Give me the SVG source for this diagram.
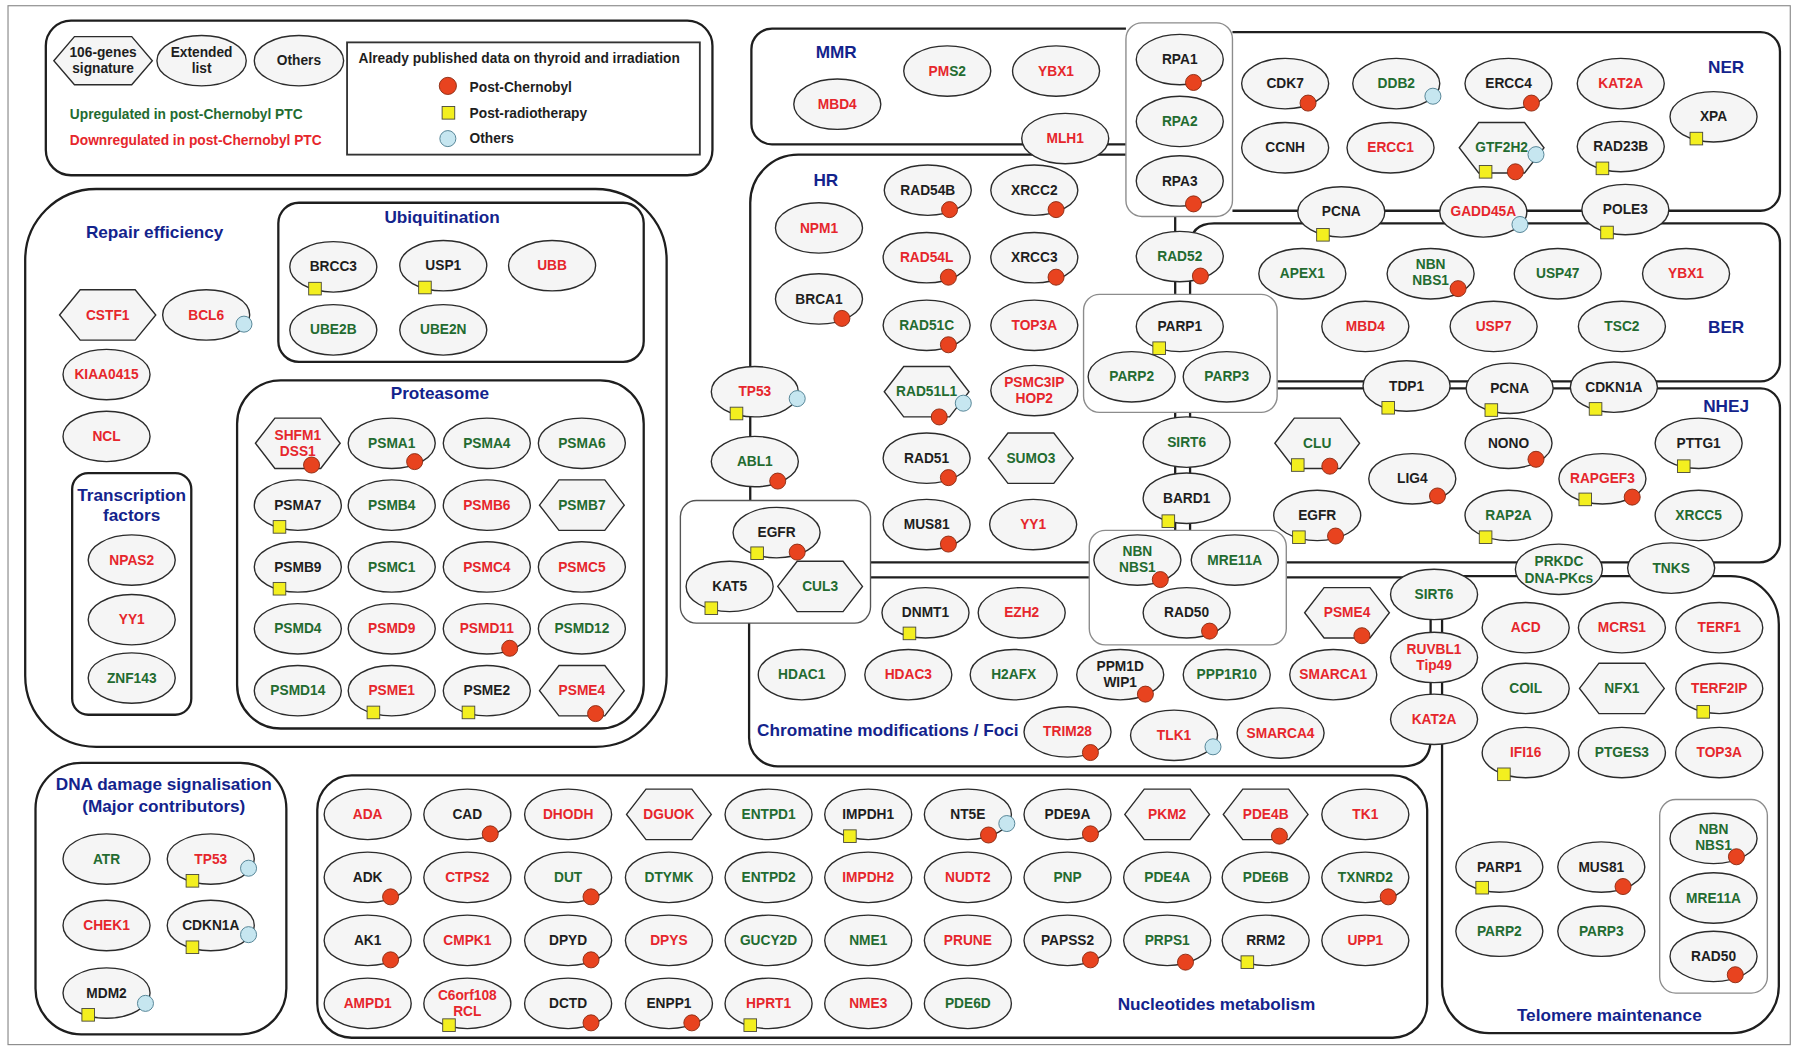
<svg xmlns="http://www.w3.org/2000/svg" width="1796" height="1048" viewBox="0 0 1796 1048">
<style>
text{font-family:"Liberation Sans",Arial,sans-serif;font-weight:bold}
.nd ellipse,.nd polygon{fill:#f5f5f5;stroke:#2b2b2b;stroke-width:1.2}
.nd text{font-size:12px;text-anchor:middle}
.r{fill:#e6262c}.g{fill:#236b30}.k{fill:#1e1e1e}
.tt{font-size:15px;fill:#13238c}
.lg{font-size:12px}
.mc{fill:#e8431f;stroke:#8b2b12;stroke-width:.8}
.my{fill:#f3ef1f;stroke:#4a4a3a;stroke-width:.8}
.mb{fill:#c6e6f0;stroke:#4b7d8f;stroke-width:.8}
</style>
<rect width="1796" height="1048" fill="#fff"/>
<g transform="scale(1.14541)">
<rect x="7" y="5" width="1556" height="907" fill="none" stroke="#8a8a8a" stroke-width="1"/>

<g id="sections" fill="none" stroke="#1e1e1e" stroke-width="2">
<rect id="sec-legend" x="40" y="18" width="582" height="135" rx="22"/>
<rect id="sec-repair" x="22" y="165" width="560" height="487" rx="62"/>
<rect id="sec-ubiq" x="243" y="177" width="319" height="139" rx="18"/>
<rect id="sec-prot" x="207" y="332" width="355" height="304" rx="38"/>
<rect id="sec-tf" x="63" y="413" width="104" height="211" rx="14"/>
<rect id="sec-ddr" x="31" y="666" width="219" height="237" rx="40"/>
<rect id="sec-nuc" x="277" y="677" width="969" height="229" rx="30"/>
</g>

<g id="connectors" fill="none" stroke="#1e1e1e" stroke-width="2">
<path id="sec-mmr" d="M983,25 H674 A18,18 0 0 0 656,43 V108 A18,18 0 0 0 674,126 H983"/>
<path id="sec-ner" d="M1076,28 H1537 A17,17 0 0 1 1554,45 V167 A17,17 0 0 1 1537,184 H1076"/>
<path id="sec-hr" d="M983,135 H697 A42,42 0 0 0 655,177 V437 M760,491 H951 M1026,189 V257 M1026,360 V463"/>
<path id="sec-ber" d="M1039,257 V216 Q1039,195 1060,195 H1537 A17,17 0 0 1 1554,212 V316 A17,17 0 0 1 1537,333 H1115"/>
<path id="sec-nhej" d="M1115,339 H1537 A17,17 0 0 1 1554,356 V473 A18,18 0 0 1 1536,491 H1123 M1039,360 V463"/>
<path id="sec-chrom" d="M760,504 H951 M1123,504 H1249 V645 Q1249,669 1225,669 H679 A25,25 0 0 1 654,644 V544"/>
<path id="sec-telo" d="M1276,503 H1511 A42,42 0 0 1 1553,545 V861 A41,41 0 0 1 1512,902 H1300 A41,41 0 0 1 1259,861 V519"/>
</g>

<g id="subgroups" fill="#fff" stroke="#8c8c8c" stroke-width="1.2">
<rect id="box-rpa" x="983" y="20" width="93" height="169" rx="14"/>
<rect id="box-parp" x="946" y="257" width="169" height="103" rx="14"/>
<rect id="box-nbn" x="951" y="463" width="172" height="100" rx="14"/>
<rect id="box-egfr" x="594" y="437" width="166" height="107" rx="14" stroke="#555"/>
<rect id="box-telnbn" x="1449" y="698" width="94" height="169" rx="14"/>
</g>

<g id="legend">
<g id="lg-hex" class="nd"><polygon points="47,53 65,32 115,32 133,53 115,74 65,74"/><text class="k" x="90" y="50">106-genes</text><text class="k" x="90" y="64">signature</text></g>
<g id="lg-ext" class="nd"><ellipse cx="176" cy="53" rx="39" ry="22"/><text class="k" x="176" y="50">Extended</text><text class="k" x="176" y="64">list</text></g>
<g id="lg-oth" class="nd"><ellipse cx="261" cy="53" rx="39" ry="22"/><text class="k" x="261" y="57">Others</text></g>
<text class="lg g" x="61" y="104">Upregulated in post-Chernobyl PTC</text>
<text class="lg r" x="61" y="127">Downregulated in post-Chernobyl PTC</text>
<rect x="303" y="37" width="308" height="98" fill="none" stroke="#333" stroke-width="1.6"/>
<text class="lg k" x="313" y="55">Already published data on thyroid and irradiation</text>
<circle class="mc" cx="391" cy="75" r="7.5"/><text class="lg k" x="410" y="80">Post-Chernobyl</text>
<rect class="my" x="386" y="93" width="11" height="11"/><text class="lg k" x="410" y="103">Post-radiotherapy</text>
<circle class="mb" cx="391" cy="121" r="7"/><text class="lg k" x="410" y="125">Others</text>
</g>

<g id="titles" class="tt">
<text x="75" y="208">Repair efficiency</text>
<text x="386" y="195" text-anchor="middle">Ubiquitination</text>
<text x="384" y="348" text-anchor="middle">Proteasome</text>
<text x="115" y="437" text-anchor="middle">Transcription</text>
<text x="115" y="455" text-anchor="middle">factors</text>
<text x="143" y="690" text-anchor="middle">DNA damage signalisation</text>
<text x="143" y="709" text-anchor="middle">(Major contributors)</text>
<text x="730" y="51" text-anchor="middle">MMR</text>
<text x="721" y="162" text-anchor="middle">HR</text>
<text x="1507" y="64" text-anchor="middle">NER</text>
<text x="1507" y="291" text-anchor="middle">BER</text>
<text x="1507" y="360" text-anchor="middle">NHEJ</text>
<text x="661" y="643">Chromatine modifications / Foci</text>
<text x="1062" y="882" text-anchor="middle">Nucleotides metabolism</text>
<text x="1405" y="891" text-anchor="middle">Telomere maintenance</text>
</g>

<g id="nodes">
<!-- Repair efficiency -->
<g id="n-CSTF1" class="nd"><polygon points="52,275 70,253 118,253 136,275 118,297 70,297"/><text class="r" x="94" y="279">CSTF1</text></g>
<g id="n-BCL6" class="nd"><ellipse cx="180" cy="275" rx="38" ry="22"/><text class="r" x="180" y="279">BCL6</text><circle class="mb" cx="213" cy="283" r="7"/></g>
<g id="n-KIAA0415" class="nd"><ellipse cx="93" cy="327" rx="38" ry="22"/><text class="r" x="93" y="331">KIAA0415</text></g>
<g id="n-NCL" class="nd"><ellipse cx="93" cy="381" rx="38" ry="22"/><text class="r" x="93" y="385">NCL</text></g>
<g id="n-NPAS2" class="nd"><ellipse cx="115" cy="489" rx="38" ry="22"/><text class="r" x="115" y="493">NPAS2</text></g>
<g id="n-YY1-tf" class="nd"><ellipse cx="115" cy="541" rx="38" ry="22"/><text class="r" x="115" y="545">YY1</text></g>
<g id="n-ZNF143" class="nd"><ellipse cx="115" cy="592" rx="38" ry="22"/><text class="g" x="115" y="596">ZNF143</text></g>
<!-- Ubiquitination -->
<g id="n-BRCC3" class="nd"><ellipse cx="291" cy="233" rx="38" ry="22"/><text class="k" x="291" y="237">BRCC3</text><rect class="my" x="269.5" y="246.5" width="11" height="11"/></g>
<g id="n-USP1" class="nd"><ellipse cx="387" cy="232" rx="38" ry="22"/><text class="k" x="387" y="236">USP1</text><rect class="my" x="365.5" y="245.5" width="11" height="11"/></g>
<g id="n-UBB" class="nd"><ellipse cx="482" cy="232" rx="38" ry="22"/><text class="r" x="482" y="236">UBB</text></g>
<g id="n-UBE2B" class="nd"><ellipse cx="291" cy="288" rx="38" ry="22"/><text class="g" x="291" y="292">UBE2B</text></g>
<g id="n-UBE2N" class="nd"><ellipse cx="387" cy="288" rx="38" ry="22"/><text class="g" x="387" y="292">UBE2N</text></g>
<!-- Proteasome -->
<g id="n-SHFM1" class="nd"><polygon points="223,387 240,365 280,365 297,387 280,409 240,409"/><text class="r" x="260" y="384">SHFM1</text><text class="r" x="260" y="398">DSS1</text><circle class="mc" cx="272" cy="406" r="7"/></g>
<g id="n-PSMA1" class="nd"><ellipse cx="342" cy="387" rx="38" ry="22"/><text class="g" x="342" y="391">PSMA1</text><circle class="mc" cx="362" cy="403" r="7"/></g>
<g id="n-PSMA4" class="nd"><ellipse cx="425" cy="387" rx="38" ry="22"/><text class="g" x="425" y="391">PSMA4</text></g>
<g id="n-PSMA6" class="nd"><ellipse cx="508" cy="387" rx="38" ry="22"/><text class="g" x="508" y="391">PSMA6</text></g>
<g id="n-PSMA7" class="nd"><ellipse cx="260" cy="441" rx="38" ry="22"/><text class="k" x="260" y="445">PSMA7</text><rect class="my" x="238.5" y="454.5" width="11" height="11"/></g>
<g id="n-PSMB4" class="nd"><ellipse cx="342" cy="441" rx="38" ry="22"/><text class="g" x="342" y="445">PSMB4</text></g>
<g id="n-PSMB6" class="nd"><ellipse cx="425" cy="441" rx="38" ry="22"/><text class="r" x="425" y="445">PSMB6</text></g>
<g id="n-PSMB7" class="nd"><polygon points="471,441 488,419 528,419 545,441 528,463 488,463"/><text class="g" x="508" y="445">PSMB7</text></g>
<g id="n-PSMB9" class="nd"><ellipse cx="260" cy="495" rx="38" ry="22"/><text class="k" x="260" y="499">PSMB9</text><rect class="my" x="238.5" y="508.5" width="11" height="11"/></g>
<g id="n-PSMC1" class="nd"><ellipse cx="342" cy="495" rx="38" ry="22"/><text class="g" x="342" y="499">PSMC1</text></g>
<g id="n-PSMC4" class="nd"><ellipse cx="425" cy="495" rx="38" ry="22"/><text class="r" x="425" y="499">PSMC4</text></g>
<g id="n-PSMC5" class="nd"><ellipse cx="508" cy="495" rx="38" ry="22"/><text class="r" x="508" y="499">PSMC5</text></g>
<g id="n-PSMD4" class="nd"><ellipse cx="260" cy="549" rx="38" ry="22"/><text class="g" x="260" y="553">PSMD4</text></g>
<g id="n-PSMD9" class="nd"><ellipse cx="342" cy="549" rx="38" ry="22"/><text class="r" x="342" y="553">PSMD9</text></g>
<g id="n-PSMD11" class="nd"><ellipse cx="425" cy="549" rx="38" ry="22"/><text class="r" x="425" y="553">PSMD11</text><circle class="mc" cx="445" cy="566" r="7"/></g>
<g id="n-PSMD12" class="nd"><ellipse cx="508" cy="549" rx="38" ry="22"/><text class="g" x="508" y="553">PSMD12</text></g>
<g id="n-PSMD14" class="nd"><ellipse cx="260" cy="603" rx="38" ry="22"/><text class="g" x="260" y="607">PSMD14</text></g>
<g id="n-PSME1" class="nd"><ellipse cx="342" cy="603" rx="38" ry="22"/><text class="r" x="342" y="607">PSME1</text><rect class="my" x="320.5" y="616.5" width="11" height="11"/></g>
<g id="n-PSME2" class="nd"><ellipse cx="425" cy="603" rx="38" ry="22"/><text class="k" x="425" y="607">PSME2</text><rect class="my" x="403.5" y="616.5" width="11" height="11"/></g>
<g id="n-PSME4-prot" class="nd"><polygon points="471,603 488,581 528,581 545,603 528,625 488,625"/><text class="r" x="508" y="607">PSME4</text><circle class="mc" cx="520" cy="623" r="7"/></g>
<!-- DNA damage signalisation -->
<g id="n-ATR" class="nd"><ellipse cx="93" cy="750" rx="38" ry="22"/><text class="g" x="93" y="754">ATR</text></g>
<g id="n-TP53-ddr" class="nd"><ellipse cx="184" cy="750" rx="38" ry="22"/><text class="r" x="184" y="754">TP53</text><rect class="my" x="162.5" y="763.5" width="11" height="11"/><circle class="mb" cx="217" cy="758" r="7"/></g>
<g id="n-CHEK1" class="nd"><ellipse cx="93" cy="808" rx="38" ry="22"/><text class="r" x="93" y="812">CHEK1</text></g>
<g id="n-CDKN1A-ddr" class="nd"><ellipse cx="184" cy="808" rx="38" ry="22"/><text class="k" x="184" y="812">CDKN1A</text><rect class="my" x="162.5" y="821.5" width="11" height="11"/><circle class="mb" cx="217" cy="816" r="7"/></g>
<g id="n-MDM2" class="nd"><ellipse cx="93" cy="867" rx="38" ry="22"/><text class="k" x="93" y="871">MDM2</text><rect class="my" x="71.5" y="880.5" width="11" height="11"/><circle class="mb" cx="127" cy="876" r="7"/></g>
<!-- Nucleotides metabolism -->
<g id="n-ADA" class="nd"><ellipse cx="321" cy="711" rx="38" ry="22"/><text class="r" x="321" y="715">ADA</text></g>
<g id="n-CAD" class="nd"><ellipse cx="408" cy="711" rx="38" ry="22"/><text class="k" x="408" y="715">CAD</text><circle class="mc" cx="428" cy="728" r="7"/></g>
<g id="n-DHODH" class="nd"><ellipse cx="496" cy="711" rx="38" ry="22"/><text class="r" x="496" y="715">DHODH</text></g>
<g id="n-DGUOK" class="nd"><polygon points="547,711 564,689 604,689 621,711 604,733 564,733"/><text class="r" x="584" y="715">DGUOK</text></g>
<g id="n-ENTPD1" class="nd"><ellipse cx="671" cy="711" rx="38" ry="22"/><text class="g" x="671" y="715">ENTPD1</text></g>
<g id="n-IMPDH1" class="nd"><ellipse cx="758" cy="711" rx="38" ry="22"/><text class="k" x="758" y="715">IMPDH1</text><rect class="my" x="736.5" y="724.5" width="11" height="11"/></g>
<g id="n-NT5E" class="nd"><ellipse cx="845" cy="711" rx="38" ry="22"/><text class="k" x="845" y="715">NT5E</text><circle class="mc" cx="863" cy="729" r="7"/><circle class="mb" cx="879" cy="719" r="7"/></g>
<g id="n-PDE9A" class="nd"><ellipse cx="932" cy="711" rx="38" ry="22"/><text class="k" x="932" y="715">PDE9A</text><circle class="mc" cx="952" cy="728" r="7"/></g>
<g id="n-PKM2" class="nd"><polygon points="982,711 999,689 1039,689 1056,711 1039,733 999,733"/><text class="r" x="1019" y="715">PKM2</text></g>
<g id="n-PDE4B" class="nd"><polygon points="1068,711 1085,689 1125,689 1142,711 1125,733 1085,733"/><text class="r" x="1105" y="715">PDE4B</text><circle class="mc" cx="1117" cy="730" r="7"/></g>
<g id="n-TK1" class="nd"><ellipse cx="1192" cy="711" rx="38" ry="22"/><text class="r" x="1192" y="715">TK1</text></g>
<g id="n-ADK" class="nd"><ellipse cx="321" cy="766" rx="38" ry="22"/><text class="k" x="321" y="770">ADK</text><circle class="mc" cx="341" cy="783" r="7"/></g>
<g id="n-CTPS2" class="nd"><ellipse cx="408" cy="766" rx="38" ry="22"/><text class="r" x="408" y="770">CTPS2</text></g>
<g id="n-DUT" class="nd"><ellipse cx="496" cy="766" rx="38" ry="22"/><text class="g" x="496" y="770">DUT</text><circle class="mc" cx="516" cy="783" r="7"/></g>
<g id="n-DTYMK" class="nd"><ellipse cx="584" cy="766" rx="38" ry="22"/><text class="g" x="584" y="770">DTYMK</text></g>
<g id="n-ENTPD2" class="nd"><ellipse cx="671" cy="766" rx="38" ry="22"/><text class="g" x="671" y="770">ENTPD2</text></g>
<g id="n-IMPDH2" class="nd"><ellipse cx="758" cy="766" rx="38" ry="22"/><text class="r" x="758" y="770">IMPDH2</text></g>
<g id="n-NUDT2" class="nd"><ellipse cx="845" cy="766" rx="38" ry="22"/><text class="r" x="845" y="770">NUDT2</text></g>
<g id="n-PNP" class="nd"><ellipse cx="932" cy="766" rx="38" ry="22"/><text class="g" x="932" y="770">PNP</text></g>
<g id="n-PDE4A" class="nd"><ellipse cx="1019" cy="766" rx="38" ry="22"/><text class="g" x="1019" y="770">PDE4A</text></g>
<g id="n-PDE6B" class="nd"><ellipse cx="1105" cy="766" rx="38" ry="22"/><text class="g" x="1105" y="770">PDE6B</text></g>
<g id="n-TXNRD2" class="nd"><ellipse cx="1192" cy="766" rx="38" ry="22"/><text class="g" x="1192" y="770">TXNRD2</text><circle class="mc" cx="1212" cy="783" r="7"/></g>
<g id="n-AK1" class="nd"><ellipse cx="321" cy="821" rx="38" ry="22"/><text class="k" x="321" y="825">AK1</text><circle class="mc" cx="341" cy="838" r="7"/></g>
<g id="n-CMPK1" class="nd"><ellipse cx="408" cy="821" rx="38" ry="22"/><text class="r" x="408" y="825">CMPK1</text></g>
<g id="n-DPYD" class="nd"><ellipse cx="496" cy="821" rx="38" ry="22"/><text class="k" x="496" y="825">DPYD</text><circle class="mc" cx="516" cy="838" r="7"/></g>
<g id="n-DPYS" class="nd"><ellipse cx="584" cy="821" rx="38" ry="22"/><text class="r" x="584" y="825">DPYS</text></g>
<g id="n-GUCY2D" class="nd"><ellipse cx="671" cy="821" rx="38" ry="22"/><text class="g" x="671" y="825">GUCY2D</text></g>
<g id="n-NME1" class="nd"><ellipse cx="758" cy="821" rx="38" ry="22"/><text class="g" x="758" y="825">NME1</text></g>
<g id="n-PRUNE" class="nd"><ellipse cx="845" cy="821" rx="38" ry="22"/><text class="r" x="845" y="825">PRUNE</text></g>
<g id="n-PAPSS2" class="nd"><ellipse cx="932" cy="821" rx="38" ry="22"/><text class="k" x="932" y="825">PAPSS2</text><circle class="mc" cx="952" cy="838" r="7"/></g>
<g id="n-PRPS1" class="nd"><ellipse cx="1019" cy="821" rx="38" ry="22"/><text class="g" x="1019" y="825">PRPS1</text><circle class="mc" cx="1035" cy="840" r="7"/></g>
<g id="n-RRM2" class="nd"><ellipse cx="1105" cy="821" rx="38" ry="22"/><text class="k" x="1105" y="825">RRM2</text><rect class="my" x="1083.5" y="834.5" width="11" height="11"/></g>
<g id="n-UPP1" class="nd"><ellipse cx="1192" cy="821" rx="38" ry="22"/><text class="r" x="1192" y="825">UPP1</text></g>
<g id="n-AMPD1" class="nd"><ellipse cx="321" cy="876" rx="38" ry="22"/><text class="r" x="321" y="880">AMPD1</text></g>
<g id="n-C6orf108" class="nd"><ellipse cx="408" cy="876" rx="38" ry="22"/><text class="r" x="408" y="873">C6orf108</text><text class="r" x="408" y="887">RCL</text><rect class="my" x="386.5" y="889.5" width="11" height="11"/></g>
<g id="n-DCTD" class="nd"><ellipse cx="496" cy="876" rx="38" ry="22"/><text class="k" x="496" y="880">DCTD</text><circle class="mc" cx="516" cy="893" r="7"/></g>
<g id="n-ENPP1" class="nd"><ellipse cx="584" cy="876" rx="38" ry="22"/><text class="k" x="584" y="880">ENPP1</text><circle class="mc" cx="604" cy="893" r="7"/></g>
<g id="n-HPRT1" class="nd"><ellipse cx="671" cy="876" rx="38" ry="22"/><text class="r" x="671" y="880">HPRT1</text><rect class="my" x="649.5" y="889.5" width="11" height="11"/></g>
<g id="n-NME3" class="nd"><ellipse cx="758" cy="876" rx="38" ry="22"/><text class="r" x="758" y="880">NME3</text></g>
<g id="n-PDE6D" class="nd"><ellipse cx="845" cy="876" rx="38" ry="22"/><text class="g" x="845" y="880">PDE6D</text></g>
<!-- MMR -->
<g id="n-PMS2" class="nd"><ellipse cx="827" cy="62" rx="38" ry="22"/><text class="r" x="827" y="66">PM<tspan class="g">S2</tspan></text></g>
<g id="n-YBX1-mmr" class="nd"><ellipse cx="922" cy="62" rx="38" ry="22"/><text class="r" x="922" y="66">YBX1</text></g>
<g id="n-MBD4-mmr" class="nd"><ellipse cx="731" cy="91" rx="38" ry="22"/><text class="r" x="731" y="95">MBD4</text></g>
<g id="n-MLH1" class="nd"><ellipse cx="930" cy="121" rx="38" ry="22"/><text class="r" x="930" y="125">MLH1</text></g>
<!-- RPA -->
<g id="n-RPA1" class="nd"><ellipse cx="1030" cy="52" rx="38" ry="22"/><text class="k" x="1030" y="56">RPA1</text><circle class="mc" cx="1042" cy="72" r="7"/></g>
<g id="n-RPA2" class="nd"><ellipse cx="1030" cy="106" rx="38" ry="22"/><text class="g" x="1030" y="110">RPA2</text></g>
<g id="n-RPA3" class="nd"><ellipse cx="1030" cy="158" rx="38" ry="22"/><text class="k" x="1030" y="162">RPA3</text><circle class="mc" cx="1042" cy="178" r="7"/></g>
<!-- NER -->
<g id="n-CDK7" class="nd"><ellipse cx="1122" cy="73" rx="38" ry="22"/><text class="k" x="1122" y="77">CDK7</text><circle class="mc" cx="1142" cy="90" r="7"/></g>
<g id="n-DDB2" class="nd"><ellipse cx="1219" cy="73" rx="38" ry="22"/><text class="g" x="1219" y="77">DDB2</text><circle class="mb" cx="1251" cy="84" r="7"/></g>
<g id="n-ERCC4" class="nd"><ellipse cx="1317" cy="73" rx="38" ry="22"/><text class="k" x="1317" y="77">ERCC4</text><circle class="mc" cx="1337" cy="90" r="7"/></g>
<g id="n-KAT2A-ner" class="nd"><ellipse cx="1415" cy="73" rx="38" ry="22"/><text class="r" x="1415" y="77">KAT2A</text></g>
<g id="n-XPA" class="nd"><ellipse cx="1496" cy="102" rx="38" ry="22"/><text class="k" x="1496" y="106">XPA</text><rect class="my" x="1475.5" y="115.5" width="11" height="11"/></g>
<g id="n-CCNH" class="nd"><ellipse cx="1122" cy="129" rx="38" ry="22"/><text class="k" x="1122" y="133">CCNH</text></g>
<g id="n-ERCC1" class="nd"><ellipse cx="1214" cy="129" rx="38" ry="22"/><text class="r" x="1214" y="133">ERCC1</text></g>
<g id="n-GTF2H2" class="nd"><polygon points="1274,129 1291,107 1331,107 1348,129 1331,151 1291,151"/><text class="g" x="1311" y="133">GTF2H2</text><rect class="my" x="1291.5" y="144.5" width="11" height="11"/><circle class="mc" cx="1323" cy="150" r="7"/><circle class="mb" cx="1341" cy="135" r="7"/></g>
<g id="n-RAD23B" class="nd"><ellipse cx="1415" cy="128" rx="38" ry="22"/><text class="k" x="1415" y="132">RAD23B</text><rect class="my" x="1393.5" y="141.5" width="11" height="11"/></g>
<g id="n-PCNA-ner" class="nd"><ellipse cx="1171" cy="185" rx="38" ry="22"/><text class="k" x="1171" y="189">PCNA</text><rect class="my" x="1149.5" y="199.5" width="11" height="11"/></g>
<g id="n-GADD45A" class="nd"><ellipse cx="1295" cy="185" rx="38" ry="22"/><text class="r" x="1295" y="189">GADD45A</text><circle class="mb" cx="1327" cy="196" r="7"/></g>
<g id="n-POLE3" class="nd"><ellipse cx="1419" cy="183" rx="38" ry="22"/><text class="k" x="1419" y="187">POLE3</text><rect class="my" x="1397.5" y="197.5" width="11" height="11"/></g>
<!-- HR -->
<g id="n-NPM1" class="nd"><ellipse cx="715" cy="199" rx="38" ry="22"/><text class="r" x="715" y="203">NPM1</text></g>
<g id="n-BRCA1" class="nd"><ellipse cx="715" cy="261" rx="38" ry="22"/><text class="k" x="715" y="265">BRCA1</text><circle class="mc" cx="735" cy="278" r="7"/></g>
<g id="n-RAD54B" class="nd"><ellipse cx="810" cy="166" rx="38" ry="22"/><text class="k" x="810" y="170">RAD54B</text><circle class="mc" cx="829" cy="183" r="7"/></g>
<g id="n-XRCC2" class="nd"><ellipse cx="903" cy="166" rx="38" ry="22"/><text class="k" x="903" y="170">XRCC2</text><circle class="mc" cx="922" cy="183" r="7"/></g>
<g id="n-RAD54L" class="nd"><ellipse cx="809" cy="225" rx="38" ry="22"/><text class="r" x="809" y="229">RAD54L</text><circle class="mc" cx="828" cy="242" r="7"/></g>
<g id="n-XRCC3" class="nd"><ellipse cx="903" cy="225" rx="38" ry="22"/><text class="k" x="903" y="229">XRCC3</text><circle class="mc" cx="922" cy="242" r="7"/></g>
<g id="n-RAD51C" class="nd"><ellipse cx="809" cy="284" rx="38" ry="22"/><text class="g" x="809" y="288">RAD51C</text><circle class="mc" cx="828" cy="301" r="7"/></g>
<g id="n-TOP3A-hr" class="nd"><ellipse cx="903" cy="284" rx="38" ry="22"/><text class="r" x="903" y="288">TOP3A</text></g>
<g id="n-RAD51L1" class="nd"><polygon points="772,342 789,320 829,320 846,342 829,364 789,364"/><text class="g" x="809" y="346">RAD51L1</text><circle class="mc" cx="820" cy="364" r="7"/><circle class="mb" cx="841" cy="352" r="7"/></g>
<g id="n-PSMC3IP" class="nd"><ellipse cx="903" cy="341" rx="38" ry="22"/><text class="r" x="903" y="338">PSMC3IP</text><text class="r" x="903" y="352" font-weight="normal">HOP2</text></g>
<g id="n-RAD51" class="nd"><ellipse cx="809" cy="400" rx="38" ry="22"/><text class="k" x="809" y="404">RAD51</text><circle class="mc" cx="828" cy="417" r="7"/></g>
<g id="n-SUMO3" class="nd"><polygon points="863,400 880,378 920,378 937,400 920,422 880,422"/><text class="g" x="900" y="404">SUMO3</text></g>
<g id="n-MUS81-hr" class="nd"><ellipse cx="809" cy="458" rx="38" ry="22"/><text class="k" x="809" y="462">MUS81</text><circle class="mc" cx="828" cy="475" r="7"/></g>
<g id="n-YY1-hr" class="nd"><ellipse cx="902" cy="458" rx="38" ry="22"/><text class="r" x="902" y="462">YY1</text></g>
<g id="n-TP53-hr" class="nd"><ellipse cx="659" cy="342" rx="38" ry="22"/><text class="r" x="659" y="346">TP53</text><rect class="my" x="637.5" y="355.5" width="11" height="11"/><circle class="mb" cx="696" cy="348" r="7"/></g>
<g id="n-ABL1" class="nd"><ellipse cx="659" cy="403" rx="38" ry="22"/><text class="g" x="659" y="407">ABL1</text><circle class="mc" cx="679" cy="420" r="7"/></g>
<g id="n-RAD52" class="nd"><ellipse cx="1030" cy="224" rx="38" ry="22"/><text class="g" x="1030" y="228">RAD52</text><circle class="mc" cx="1048" cy="241" r="7"/></g>
<!-- PARP -->
<g id="n-PARP1" class="nd"><ellipse cx="1030" cy="285" rx="38" ry="22"/><text class="k" x="1030" y="289">PARP1</text><rect class="my" x="1006.5" y="298.5" width="11" height="11"/></g>
<g id="n-PARP2" class="nd"><ellipse cx="988" cy="329" rx="38" ry="22"/><text class="g" x="988" y="333">PARP2</text></g>
<g id="n-PARP3" class="nd"><ellipse cx="1071" cy="329" rx="38" ry="22"/><text class="g" x="1071" y="333">PARP3</text></g>
<g id="n-SIRT6-c" class="nd"><ellipse cx="1036" cy="386" rx="38" ry="22"/><text class="g" x="1036" y="390">SIRT6</text></g>
<g id="n-BARD1" class="nd"><ellipse cx="1036" cy="435" rx="38" ry="22"/><text class="k" x="1036" y="439">BARD1</text><rect class="my" x="1014.5" y="449.5" width="11" height="11"/></g>
<!-- NBN box -->
<g id="n-NBN-c" class="nd"><ellipse cx="993" cy="489" rx="38" ry="22"/><text class="g" x="993" y="485">NBN</text><text class="g" x="993" y="499">NBS1</text><circle class="mc" cx="1013" cy="506" r="7"/></g>
<g id="n-MRE11A-c" class="nd"><ellipse cx="1078" cy="489" rx="38" ry="22"/><text class="g" x="1078" y="493">MRE11A</text></g>
<g id="n-RAD50-c" class="nd"><ellipse cx="1036" cy="535" rx="38" ry="22"/><text class="k" x="1036" y="539">RAD50</text><circle class="mc" cx="1056" cy="551" r="7"/></g>
<!-- BER -->
<g id="n-APEX1" class="nd"><ellipse cx="1137" cy="239" rx="38" ry="22"/><text class="g" x="1137" y="243">APEX1</text></g>
<g id="n-NBN-ber" class="nd"><ellipse cx="1249" cy="239" rx="38" ry="22"/><text class="g" x="1249" y="235">NBN</text><text class="g" x="1249" y="249">NBS1</text><circle class="mc" cx="1273" cy="252" r="7"/></g>
<g id="n-USP47" class="nd"><ellipse cx="1360" cy="239" rx="38" ry="22"/><text class="g" x="1360" y="243">USP47</text></g>
<g id="n-YBX1-ber" class="nd"><ellipse cx="1472" cy="239" rx="38" ry="22"/><text class="r" x="1472" y="243">YBX1</text></g>
<g id="n-MBD4-ber" class="nd"><ellipse cx="1192" cy="285" rx="38" ry="22"/><text class="r" x="1192" y="289">MBD4</text></g>
<g id="n-USP7" class="nd"><ellipse cx="1304" cy="285" rx="38" ry="22"/><text class="r" x="1304" y="289">USP7</text></g>
<g id="n-TSC2" class="nd"><ellipse cx="1416" cy="285" rx="38" ry="22"/><text class="g" x="1416" y="289">TSC2</text></g>
<!-- NHEJ -->
<g id="n-TDP1" class="nd"><ellipse cx="1228" cy="337" rx="38" ry="22"/><text class="k" x="1228" y="341">TDP1</text><rect class="my" x="1206.5" y="350.5" width="11" height="11"/></g>
<g id="n-PCNA-nhej" class="nd"><ellipse cx="1318" cy="339" rx="38" ry="22"/><text class="k" x="1318" y="343">PCNA</text><rect class="my" x="1296.5" y="352.5" width="11" height="11"/></g>
<g id="n-CDKN1A-nhej" class="nd"><ellipse cx="1409" cy="338" rx="38" ry="22"/><text class="k" x="1409" y="342">CDKN1A</text><rect class="my" x="1387.5" y="351.5" width="11" height="11"/></g>
<g id="n-CLU" class="nd"><polygon points="1113,387 1130,365 1170,365 1187,387 1170,409 1130,409"/><text class="g" x="1150" y="391">CLU</text><rect class="my" x="1127.5" y="400.5" width="11" height="11"/><circle class="mc" cx="1161" cy="407" r="7"/></g>
<g id="n-EGFR-nhej" class="nd"><ellipse cx="1150" cy="450" rx="38" ry="22"/><text class="k" x="1150" y="454">EGFR</text><rect class="my" x="1128.5" y="463.5" width="11" height="11"/><circle class="mc" cx="1166" cy="468" r="7"/></g>
<g id="n-LIG4" class="nd"><ellipse cx="1233" cy="418" rx="38" ry="22"/><text class="k" x="1233" y="422">LIG4</text><circle class="mc" cx="1255" cy="433" r="7"/></g>
<g id="n-NONO" class="nd"><ellipse cx="1317" cy="387" rx="38" ry="22"/><text class="k" x="1317" y="391">NONO</text><circle class="mc" cx="1341" cy="401" r="7"/></g>
<g id="n-RAP2A" class="nd"><ellipse cx="1317" cy="450" rx="38" ry="22"/><text class="g" x="1317" y="454">RAP2A</text><rect class="my" x="1291.5" y="463.5" width="11" height="11"/></g>
<g id="n-RAPGEF3" class="nd"><ellipse cx="1399" cy="418" rx="38" ry="22"/><text class="r" x="1399" y="422">RAPGEF3</text><rect class="my" x="1378.5" y="430.5" width="11" height="11"/><circle class="mc" cx="1425" cy="434" r="7"/></g>
<g id="n-PTTG1" class="nd"><ellipse cx="1483" cy="387" rx="38" ry="22"/><text class="k" x="1483" y="391">PTTG1</text><rect class="my" x="1464.5" y="401.5" width="11" height="11"/></g>
<g id="n-XRCC5" class="nd"><ellipse cx="1483" cy="450" rx="38" ry="22"/><text class="g" x="1483" y="454">XRCC5</text></g>
<!-- EGFR box -->
<g id="n-EGFR-box" class="nd"><ellipse cx="678" cy="465" rx="38" ry="22"/><text class="k" x="678" y="469">EGFR</text><rect class="my" x="655.5" y="477.5" width="11" height="11"/><circle class="mc" cx="696" cy="482" r="7"/></g>
<g id="n-KAT5" class="nd"><ellipse cx="637" cy="512" rx="38" ry="22"/><text class="k" x="637" y="516">KAT5</text><rect class="my" x="615.5" y="525.5" width="11" height="11"/></g>
<g id="n-CUL3" class="nd"><polygon points="679,512 696,490 736,490 753,512 736,534 696,534"/><text class="g" x="716" y="516">CUL3</text></g>
<!-- Chromatine -->
<g id="n-DNMT1" class="nd"><ellipse cx="808" cy="535" rx="38" ry="22"/><text class="k" x="808" y="539">DNMT1</text><rect class="my" x="788.5" y="547.5" width="11" height="11"/></g>
<g id="n-EZH2" class="nd"><ellipse cx="892" cy="535" rx="38" ry="22"/><text class="r" x="892" y="539">EZH2</text></g>
<g id="n-HDAC1" class="nd"><ellipse cx="700" cy="589" rx="38" ry="22"/><text class="g" x="700" y="593">HDAC1</text></g>
<g id="n-HDAC3" class="nd"><ellipse cx="793" cy="589" rx="38" ry="22"/><text class="r" x="793" y="593">HDAC3</text></g>
<g id="n-H2AFX" class="nd"><ellipse cx="885" cy="589" rx="38" ry="22"/><text class="g" x="885" y="593">H2AFX</text></g>
<g id="n-PPM1D" class="nd"><ellipse cx="978" cy="589" rx="38" ry="22"/><text class="k" x="978" y="586">PPM1D</text><text class="k" x="978" y="600">WIP1</text><circle class="mc" cx="1000" cy="606" r="7"/></g>
<g id="n-PPP1R10" class="nd"><ellipse cx="1071" cy="589" rx="38" ry="22"/><text class="g" x="1071" y="593">PPP1R10</text></g>
<g id="n-SMARCA1" class="nd"><ellipse cx="1164" cy="589" rx="38" ry="22"/><text class="r" x="1164" y="593">SMARCA1</text></g>
<g id="n-PSME4-chr" class="nd"><polygon points="1139,535 1156,513 1196,513 1213,535 1196,557 1156,557"/><text class="r" x="1176" y="539">PSME4</text><circle class="mc" cx="1189" cy="555" r="7"/></g>
<g id="n-TRIM28" class="nd"><ellipse cx="932" cy="639" rx="38" ry="22"/><text class="r" x="932" y="643">TRIM28</text><circle class="mc" cx="952" cy="657" r="7"/></g>
<g id="n-TLK1" class="nd"><ellipse cx="1025" cy="642" rx="38" ry="22"/><text class="r" x="1025" y="646">TLK1</text><circle class="mb" cx="1059" cy="652" r="7"/></g>
<g id="n-SMARCA4" class="nd"><ellipse cx="1118" cy="640" rx="38" ry="22"/><text class="r" x="1118" y="644">SMARCA4</text></g>
<!-- Telomere -->
<g id="n-SIRT6-t" class="nd"><ellipse cx="1252" cy="519" rx="38" ry="22"/><text class="g" x="1252" y="523">SIRT6</text></g>
<g id="n-RUVBL1" class="nd"><ellipse cx="1252" cy="574" rx="38" ry="22"/><text class="r" x="1252" y="571">RUVBL1</text><text class="r" x="1252" y="585">Tip49</text></g>
<g id="n-KAT2A-t" class="nd"><ellipse cx="1252" cy="628" rx="38" ry="22"/><text class="r" x="1252" y="632">KAT2A</text></g>
<g id="n-PRKDC" class="nd"><ellipse cx="1361" cy="497" rx="38" ry="22"/><text class="g" x="1361" y="494">PRKDC</text><text class="g" x="1361" y="509">DNA-PKcs</text></g>
<g id="n-TNKS" class="nd"><ellipse cx="1459" cy="496" rx="38" ry="22"/><text class="g" x="1459" y="500">TNKS</text></g>
<g id="n-ACD" class="nd"><ellipse cx="1332" cy="548" rx="38" ry="22"/><text class="r" x="1332" y="552">ACD</text></g>
<g id="n-MCRS1" class="nd"><ellipse cx="1416" cy="548" rx="38" ry="22"/><text class="r" x="1416" y="552">MCRS1</text></g>
<g id="n-TERF1" class="nd"><ellipse cx="1501" cy="548" rx="38" ry="22"/><text class="r" x="1501" y="552">TERF1</text></g>
<g id="n-COIL" class="nd"><ellipse cx="1332" cy="601" rx="38" ry="22"/><text class="g" x="1332" y="605">COIL</text></g>
<g id="n-NFX1" class="nd"><polygon points="1379,601 1396,579 1436,579 1453,601 1436,623 1396,623"/><text class="g" x="1416" y="605">NFX1</text></g>
<g id="n-TERF2IP" class="nd"><ellipse cx="1501" cy="601" rx="38" ry="22"/><text class="r" x="1501" y="605">TERF2IP</text><rect class="my" x="1481.5" y="616" width="11" height="11"/></g>
<g id="n-IFI16" class="nd"><ellipse cx="1332" cy="657" rx="38" ry="22"/><text class="r" x="1332" y="661">IFI16</text><rect class="my" x="1307.5" y="670.5" width="11" height="11"/></g>
<g id="n-PTGES3" class="nd"><ellipse cx="1416" cy="657" rx="38" ry="22"/><text class="g" x="1416" y="661">PTGES3</text></g>
<g id="n-TOP3A-t" class="nd"><ellipse cx="1501" cy="657" rx="38" ry="22"/><text class="r" x="1501" y="661">TOP3A</text></g>
<g id="n-PARP1-t" class="nd"><ellipse cx="1309" cy="757" rx="38" ry="22"/><text class="k" x="1309" y="761">PARP1</text><rect class="my" x="1288.5" y="769.5" width="11" height="11"/></g>
<g id="n-MUS81-t" class="nd"><ellipse cx="1398" cy="757" rx="38" ry="22"/><text class="k" x="1398" y="761">MUS81</text><circle class="mc" cx="1417" cy="774" r="7"/></g>
<g id="n-PARP2-t" class="nd"><ellipse cx="1309" cy="813" rx="38" ry="22"/><text class="g" x="1309" y="817">PARP2</text></g>
<g id="n-PARP3-t" class="nd"><ellipse cx="1398" cy="813" rx="38" ry="22"/><text class="g" x="1398" y="817">PARP3</text></g>
<g id="n-NBN-t" class="nd"><ellipse cx="1496" cy="732" rx="38" ry="22"/><text class="g" x="1496" y="728">NBN</text><text class="g" x="1496" y="742">NBS1</text><circle class="mc" cx="1516" cy="748" r="7"/></g>
<g id="n-MRE11A-t" class="nd"><ellipse cx="1496" cy="784" rx="38" ry="22"/><text class="g" x="1496" y="788">MRE11A</text></g>
<g id="n-RAD50-t" class="nd"><ellipse cx="1496" cy="835" rx="38" ry="22"/><text class="k" x="1496" y="839">RAD50</text><circle class="mc" cx="1515" cy="851" r="7"/></g>
</g>
</g>
</svg>
